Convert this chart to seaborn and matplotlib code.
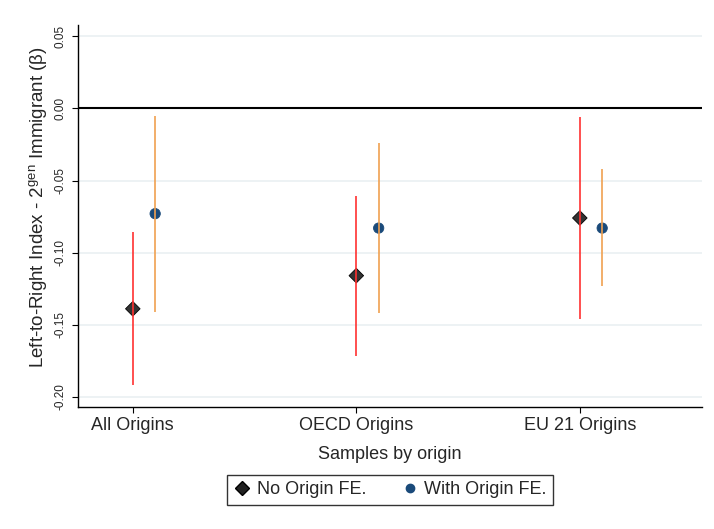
import numpy as np
import pandas as pd
import matplotlib
matplotlib.use("Agg")
import matplotlib.pyplot as plt
import seaborn as sns
from matplotlib.lines import Line2D

# values
cats = ["All Origins", "OECD Origins", "EU 21 Origins"]
no_fe = [-0.139, -0.116, -0.076]
no_fe_lo = [-0.192, -0.172, -0.146]
no_fe_hi = [-0.086, -0.061, -0.006]
with_fe = [-0.073, -0.083, -0.083]
with_fe_lo = [-0.141, -0.142, -0.123]
with_fe_hi = [-0.005, -0.024, -0.042]
yticks = [-0.20, -0.15, -0.10, -0.05, 0.00, 0.05]

sns.set_theme(style="white")
plt.rcParams["font.family"] = ["Liberation Sans", "DejaVu Sans"]
plt.rcParams["mathtext.fontset"] = "custom"
plt.rcParams["mathtext.rm"] = "Liberation Sans"

pos = np.arange(1, len(cats) + 1)
df = pd.DataFrame({
    "x": np.concatenate([pos, pos + 0.1]),
    "coef": no_fe + with_fe,
    "lo": no_fe_lo + with_fe_lo,
    "hi": no_fe_hi + with_fe_hi,
    "model": ["No Origin FE."] * 3 + ["With Origin FE."] * 3,
})

fig = plt.figure(figsize=(7.14, 5.29), dpi=100)
ax = fig.add_axes([0.109, 0.231, 0.874, 0.722])

for y in yticks:
    ax.axhline(y, color="#eaf0f2", lw=1.2, zorder=0)
ax.axhline(0, color="black", lw=1.5, zorder=1)

sns.scatterplot(data=df, x="x", y="coef", hue="model", style="model",
                palette={"No Origin FE.": "#333333", "With Origin FE.": "#1a4a7a"},
                markers={"No Origin FE.": "D", "With Origin FE.": "o"},
                s=55, edgecolor="black", linewidth=0.6,
                legend=False, ax=ax, zorder=2)
# circle edge should match its fill
ax.collections[-1].set_edgecolors(["black"] * 3 + ["#1a4a7a"] * 3)

sub = df[df.model == "No Origin FE."]
ax.vlines(sub.x, sub.lo, sub.hi, color="#ff3030", lw=1.4, alpha=0.85, zorder=3)
sub = df[df.model == "With Origin FE."]
ax.vlines(sub.x, sub.lo, sub.hi, color="#f0a050", lw=1.4, alpha=0.85, zorder=3)

ax.set_xlim(0.754, 3.546)
ax.set_ylim(-0.207, 0.058)
ax.set_xticks(pos)
ax.set_xticklabels(cats, fontsize=13)
ax.set_yticks(yticks)
ax.set_yticklabels([f"{t:.2f}" for t in yticks], fontsize=8.5, rotation=90, va="center")
ax.tick_params(axis="y", left=True, length=4, width=0.8, color="black", pad=4)
ax.tick_params(axis="x", bottom=True, length=4, width=0.8, color="black", pad=3)

for s in ["top", "right"]:
    ax.spines[s].set_visible(False)
for s in ["left", "bottom"]:
    ax.spines[s].set_color("black")
    ax.spines[s].set_linewidth(1.0)

ax.set_xlabel("Samples by origin", fontsize=13, labelpad=9)
ax.set_ylabel(r"Left-to-Right Index - 2$^{\rm gen}$ Immigrant (β)", fontsize=13.5, labelpad=8)
ax.yaxis.set_label_coords(-0.045, 0.524)

handles = [
    Line2D([], [], marker="D", ls="", color="#222222", markeredgecolor="black", markersize=7),
    Line2D([], [], marker="o", ls="", color="#1a4a7a", markeredgecolor="#1a4a7a", markersize=6),
]
fig.legend(handles, ["No Origin FE.", "With Origin FE."], loc="center",
           bbox_to_anchor=(0.546, 0.074), ncol=2, fontsize=13, frameon=True,
           fancybox=False, edgecolor="black", handletextpad=0.3, columnspacing=1.9,
           borderpad=0.35, handlelength=1.0)

fig.savefig("out.png", dpi=100, facecolor="white")
